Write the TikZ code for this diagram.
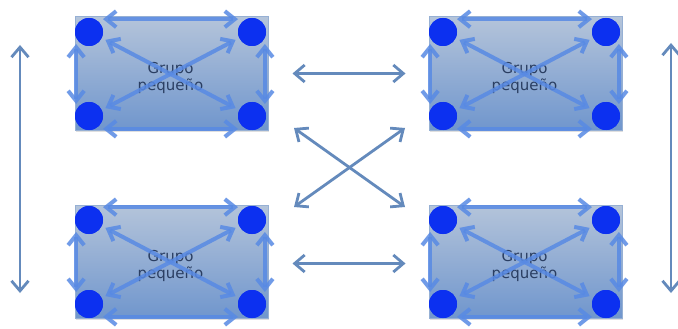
\documentclass[tikz,border=0pt]{standalone}
\usepackage{fontspec}
\setmainfont{DejaVu Sans}
\usetikzlibrary{arrows.meta,shadows}
\definecolor{dotblue}{RGB}{12,48,240}
\definecolor{inblue}{RGB}{88,138,228}
\definecolor{outblue}{RGB}{100,138,188}
\definecolor{boxtop}{RGB}{180,196,218}
\definecolor{boxbot}{RGB}{112,150,205}
\definecolor{boxline}{RGB}{150,176,212}
\definecolor{txtcol}{RGB}{42,62,98}
\tikzset{
  grpbox/.style={rectangle, minimum width=193pt, minimum height=113pt, inner sep=0pt,
    top color=boxtop, bottom color=boxbot, draw=boxline, line width=1pt,
    drop shadow={opacity=0.25, shadow xshift=1pt, shadow yshift=-2pt}},
  dot/.style={circle, fill=dotblue, minimum size=28pt, inner sep=0pt},
  inarrow/.style={draw=inblue, line width=4pt, draw opacity=0.85,
    {Straight Barb[length=10pt,width=16pt]}-{Straight Barb[length=10pt,width=16pt]}},
  outarrow/.style={draw=outblue, line width=2.8pt,
    {Straight Barb[length=10pt,width=17pt]}-{Straight Barb[length=10pt,width=17pt]}},
  grptext/.style={text=txtcol, font=\fontsize{15}{17}\selectfont, align=center, inner sep=0pt}
}
\newcommand\smallgroup[3]{%
  \node[grpbox] (r#1) at (#2+82.5,#3+41.5) {};
  \node[grptext] (t#1) at (#2+81.5,#3+46) {Grupo\\pequeño};
  \node[dot] (#1a) at (#2,#3) {};
  \node[dot] (#1b) at (#2+163,#3) {};
  \node[dot] (#1c) at (#2,#3+84) {};
  \node[dot] (#1d) at (#2+163,#3+84) {};
  \draw[inarrow, shorten <=8pt, shorten >=8pt] (#1a.65) -- (#1b.115);
  \draw[inarrow, shorten <=8pt, shorten >=8pt] (#1c.-65) -- (#1d.-115);
  \draw[inarrow, shorten <=6pt, shorten >=6pt] (#1a.205) -- (#1c.155);
  \draw[inarrow, shorten <=6pt, shorten >=6pt] (#1b.-25) -- (#1d.25);
  \draw[inarrow, shorten <=4pt, shorten >=4pt] (#1a.-25) -- (#1d.155);
  \draw[inarrow, shorten <=4pt, shorten >=4pt] (#1c.25) -- (#1b.-155);
  \node[dot] at (#1a) {};
  \node[dot] at (#1b) {};
  \node[dot] at (#1c) {};
  \node[dot] at (#1d) {};
}
\begin{document}
\begin{tikzpicture}[x=1pt,y=-1pt]
\useasboundingbox (0,0) rectangle (678,329);
\fill[white] (0,0) rectangle (678,329);
\smallgroup{g1}{89}{32}
\smallgroup{g2}{443}{32}
\smallgroup{g3}{89}{220}
\smallgroup{g4}{443}{220}
% middle arrows
\draw[outarrow, shorten <=24pt, shorten >=23pt] (rg1.east) -- (rg2.west);
\draw[outarrow, shorten <=24pt, shorten >=23pt] ([yshift=-2pt]rg3.east) -- ([yshift=-2pt]rg4.west);
\coordinate (xa) at (294,128);
\coordinate (xb) at (405,207);
\coordinate (xc) at (294,207);
\coordinate (xd) at (405,128);
\draw[outarrow] (xa) -- (xb);
\draw[outarrow] (xc) -- (xd);
\coordinate (la) at (20,45);
\coordinate (lb) at (20,293);
\coordinate (ra) at (671,43);
\coordinate (rb) at (671,293);
\draw[outarrow] (la) -- (lb);
\draw[outarrow] (ra) -- (rb);
\end{tikzpicture}
\end{document}
